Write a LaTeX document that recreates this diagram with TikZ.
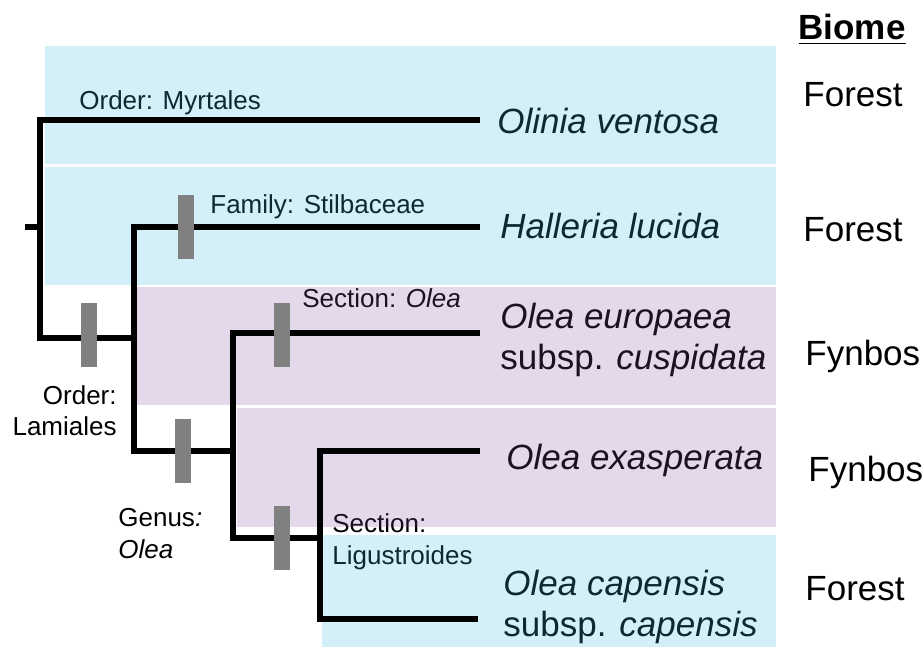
\documentclass[tikz,border=0pt]{standalone}
\usepackage{fontspec}
\setmainfont{Liberation Sans}
\usepackage{xcolor}
\usepackage{tikz}
\definecolor{pblue}{HTML}{35BBE3}
\definecolor{ppurple}{HTML}{8250A0}
\definecolor{pgray}{HTML}{808080}
\tikzset{
  pbranch/.style={black, line width=3pt, line join=miter},
  pbar/.style={fill=pgray, minimum width=8pt, minimum height=32pt, inner sep=0pt},
  pband/.style={fill opacity=0.22},
  plbl/.style={font=\fontsize{13}{15.75}\selectfont, inner sep=0pt},
  ptaxon/.style={font=\fontsize{17.5}{20.5}\selectfont\itshape, inner sep=0pt,
                 anchor=west, align=left},
  pbiome/.style={font=\fontsize{17.5}{21}\selectfont, inner sep=0pt, anchor=base west},
}

\begin{document}
\begin{tikzpicture}[x=0.5pt,y=-0.5pt]
  \useasboundingbox (0,0) rectangle (924,647);

  % ---- taxa ----
  \node[ptaxon, anchor=base west] (nOv) at (497,133) {Olinia ventosa};
  \node[ptaxon, anchor=base west] (nHl) at (500,238) {Halleria lucida};
  \node[ptaxon] (nOe) at (500,339.5) {Olea europaea\\{\upshape subsp.} cuspidata};
  \node[ptaxon, anchor=base west] (nOx) at (506,469) {Olea exasperata};
  \node[ptaxon] (nOc) at (503,606.5) {Olea capensis\\{\upshape subsp.} capensis};

  % ---- clade names ----
  \node[plbl, anchor=base west] (lMyr) at (79,110) {Order: Myrtales};
  \node[plbl, anchor=base west] (lFam) at (210,213) {Family: Stilbaceae};
  \node[plbl, anchor=base west] (lSec) at (302,307) {Section: \textit{Olea}};
  \node[plbl, anchor=east, align=right] (lLam) at (117,410.5) {Order:\\Lamiales};
  \node[plbl, anchor=west, align=left] (lGen) at (118,533.5) {Genus\textit{:}\\\textit{Olea}};
  \node[plbl, anchor=west, align=left] (lLig) at (332,542) {Section:\\Ligustroides};

  % ---- biome column ----
  \node[pbiome, font=\fontsize{17.5}{21}\selectfont\bfseries, anchor=base]
    (hBiome) at (852,40) {\underline{Biome}};
  \node[pbiome] (bm1) at (803,106) {Forest};
  \node[pbiome] (bm2) at (803,241) {Forest};
  \node[pbiome] (bm3) at (805,365) {Fynbos};
  \node[pbiome] (bm4) at (808,481) {Fynbos};
  \node[pbiome] (bm5) at (805,600) {Forest};

  % ---- shaded bands over the tips ----
  \fill[pblue, pband]   (45,46)   rectangle (776,164);
  \fill[pblue, pband]   (45,167)  rectangle (776,285);
  \fill[ppurple, pband] (137,287) rectangle (776,405);
  \fill[ppurple, pband] (237,408) rectangle (776,527);
  \fill[pblue, pband]   (322,535) rectangle (776,647);

  % ---- tree: inner nodes and tips ----
  \coordinate (stem) at (25,227);
  \coordinate (root) at (40,227);
  \coordinate (lam)  at (134,338);
  \coordinate (olea) at (233,451);
  \coordinate (lig)  at (320,538);
  \coordinate (tOv)  at (480,120);
  \coordinate (tHl)  at (480,227);
  \coordinate (tOe)  at (480,333);
  \coordinate (tOx)  at (480,451);
  \coordinate (tOc)  at (478,619);

  \draw[pbranch] (stem) -- (root);
  \draw[pbranch] (root) |- (tOv);
  \draw[pbranch] (root) |- (lam);
  \draw[pbranch] (lam)  |- (tHl);
  \draw[pbranch] (lam)  |- (olea);
  \draw[pbranch] (olea) |- (tOe);
  \draw[pbranch] (olea) |- (lig);
  \draw[pbranch] (lig)  |- (tOx);
  \draw[pbranch] (lig)  |- (tOc);

  % ---- marker bars on the branches ----
  \node[pbar] (bFam) at (186,227) {};
  \node[pbar] (bLam) at (89,335) {};
  \node[pbar] (bSec) at (282,335) {};
  \node[pbar] (bGen) at (183,451) {};
  \node[pbar] (bLig) at (282,538) {};

\end{tikzpicture}
\end{document}
